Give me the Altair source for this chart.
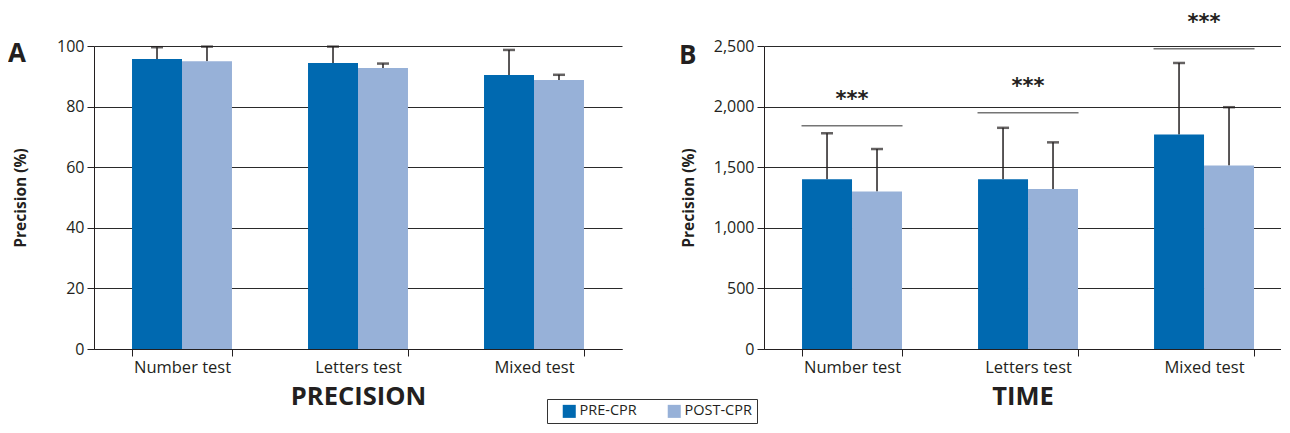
import altair as alt
import pandas as pd

categories = ["Number test", "Letters test", "Mixed test"]
series = ["PRE-CPR", "POST-CPR"]

precision_pre = [95.7, 94.4, 90.4]
precision_pre_sd = [3.9, 5.4, 8.3]
precision_post = [95.0, 92.7, 88.8]
precision_post_sd = [4.8, 1.5, 1.7]

time_pre = [1400, 1400, 1770]
time_pre_sd = [380, 425, 590]
time_post = [1300, 1320, 1515]
time_post_sd = [350, 385, 480]

time_sig_y = [1842, 1950, 2478]
time_sig_label = ["***", "***", "***"]

PRE_COLOR = "#0069B0"
POST_COLOR = "#97B1D8"
FONT = "Open Sans"
INK = "#231f20"


def make_df(pre, pre_sd, post, post_sd):
    rows = []
    for i, c in enumerate(categories):
        rows.append({"cat": c, "series": series[0], "v": pre[i], "top": pre[i] + pre_sd[i]})
        rows.append({"cat": c, "series": series[1], "v": post[i], "top": post[i] + post_sd[i]})
    return pd.DataFrame(rows)


xscale_a = alt.Scale(paddingInner=0.432, paddingOuter=0.216)
# right panel is cut at the window edge: keep the same band step, less room on the right
xscale_b = alt.Scale(paddingInner=0.432, paddingOuter=0.1847, align=0.585)

color = alt.Color(
    "series:N",
    scale=alt.Scale(domain=series, range=[PRE_COLOR, POST_COLOR]),
    sort=series,
    legend=alt.Legend(
        title=None, orient="none", direction="horizontal", legendX=453, legendY=353,
        symbolType="square", symbolSize=170, symbolStrokeWidth=0, symbolOffset=10,
        labelFontSize=14.5, labelFont=FONT, labelColor=INK, columnPadding=20, padding=5,
        strokeColor="#333", labelOffset=3,
    ),
)


def panel(df, xscale, width, ydomain, tickvals, fmt, xtitle, letter, title_pad,
          letter_dx, letter_dy, sig=None):
    x = alt.X("cat:N", sort=categories, scale=xscale,
              axis=alt.Axis(title=xtitle, labelAngle=0, tickBand="extent", tickSize=7,
                            domainColor=INK, tickColor=INK, labelFontSize=16.5, labelFont=FONT,
                            labelColor=INK, labelPadding=3, titleFont=FONT, titleFontSize=25.5,
                            titleFontWeight="bold", titleColor=INK, titlePadding=9))
    y = alt.Y("v:Q", scale=alt.Scale(domain=ydomain, nice=False),
              axis=alt.Axis(title="Precision (%)", values=tickvals, format=fmt, grid=True,
                            gridColor="#2a2a2a", gridWidth=1, domainColor=INK, tickColor=INK,
                            tickSize=7, labelFontSize=16, labelFont=FONT, labelColor=INK,
                            labelPadding=3, titleFont=FONT, titleFontSize=15.5,
                            titleFontWeight="bold", titleColor=INK, titlePadding=title_pad))
    xo = alt.XOffset("series:N", sort=series, scale=alt.Scale(paddingInner=0, paddingOuter=0))
    base = alt.Chart(df)
    bars = base.mark_bar().encode(x=x, xOffset=xo, y=y, color=color)
    rules = base.mark_rule(color=INK, strokeWidth=1.5).encode(x=x, xOffset=xo, y="v:Q", y2="top:Q")
    caps = base.mark_tick(color=INK, size=12, thickness=2.5).encode(x=x, xOffset=xo, y="top:Q")
    layers = [rules, bars, caps]
    if sig is not None:
        sdf = pd.DataFrame({"cat": categories, "y": sig[0], "lab": sig[1]})
        sb = alt.Chart(sdf)
        lines = sb.mark_tick(color="#3a3a3a", size=101, thickness=1.5).encode(
            x=alt.X("cat:N", sort=categories, scale=xscale), y=alt.Y("y:Q"))
        stars = sb.mark_text(fontSize=21, font="DejaVu Sans", fontWeight="bold", color=INK,
                             dy=-20, baseline="alphabetic").encode(
            x=alt.X("cat:N", sort=categories, scale=xscale), y=alt.Y("y:Q"), text="lab:N")
        layers += [lines, stars]
    return alt.layer(*layers).properties(
        width=width, height=303,
        title=alt.TitleParams(text=letter, anchor="start", frame="group", fontSize=26,
                              fontWeight="bold", font=FONT, color=INK, dx=letter_dx, dy=letter_dy),
    )


a = panel(make_df(precision_pre, precision_pre_sd, precision_post, precision_post_sd),
          xscale_a, 528, [0, 100], [0, 20, 40, 60, 80, 100], "d", "PRECISION", "A", 28, -86, 33)
b = panel(make_df(time_pre, time_pre_sd, time_post, time_post_sd),
          xscale_b, 517, [0, 2500], [0, 500, 1000, 1500, 2000, 2500], ",d", "TIME", "B", 17, -85, 61,
          sig=(time_sig_y, time_sig_label))

chart = (alt.hconcat(a, b, spacing=57)
         .properties(padding={"left": 0, "top": 3, "right": 0, "bottom": 0})
         .configure_view(stroke=None))

chart.save("out.html", embed_options={"renderer": "svg", "actions": False})
